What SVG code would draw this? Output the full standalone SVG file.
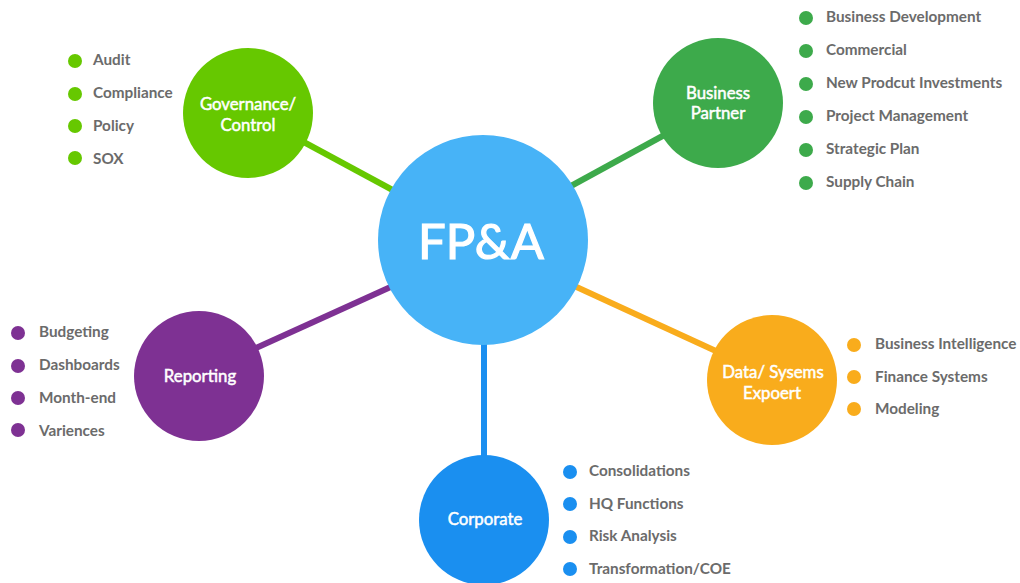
<svg xmlns="http://www.w3.org/2000/svg" width="1020" height="583" viewBox="0 0 1020 583">
<style>
.lbl{font-family:Lato,"Open Sans","Liberation Sans",sans-serif;font-size:15.3px;font-weight:bold;fill:#6b6b6b}
.nl{font-family:Lato,"Open Sans","Liberation Sans",sans-serif;font-size:16.8px;font-weight:normal;fill:#fff;stroke:#fff;stroke-width:0.5;text-anchor:middle}
.edge{stroke-width:6;fill:none}
</style>
<rect width="1020" height="583" fill="#fff"/>
<g id="connectors">
<line class="edge" x1="300" y1="140" x2="400" y2="194" stroke="#66C800"/>
<line class="edge" x1="560" y1="192" x2="668" y2="133" stroke="#3DAA4B"/>
<line class="edge" x1="256" y1="348" x2="395" y2="285" stroke="#7E3193"/>
<line class="edge" x1="570" y1="284" x2="718" y2="352" stroke="#F9AC1C"/>
<line class="edge" x1="484" y1="330" x2="484" y2="462" stroke="#1A8FF0"/>
</g>
<g id="fpa">
<circle cx="483" cy="240" r="105" fill="#47B3F7"/>
<text x="481" y="259" font-family="Lato,'Open Sans','Liberation Sans',sans-serif" font-size="49" fill="#fff" stroke="#fff" stroke-width="1.2" text-anchor="middle">FP&amp;A</text>
</g>
<g id="governance">
<circle cx="248" cy="113" r="65" fill="#66C800"/>
<text class="nl" x="248" y="110">Governance/</text>
<text class="nl" x="248" y="131">Control</text>
<g fill="#66C800"><circle cx="75" cy="61" r="7"/><circle cx="75" cy="94" r="7"/><circle cx="75" cy="126" r="7"/><circle cx="75" cy="158" r="7"/></g>
<text class="lbl" x="93" y="65">Audit</text>
<text class="lbl" x="93" y="98">Compliance</text>
<text class="lbl" x="93" y="131">Policy</text>
<text class="lbl" x="93" y="164">SOX</text>
</g>
<g id="business-partner">
<circle cx="718" cy="103" r="65" fill="#3DAA4B"/>
<text class="nl" x="718" y="99">Business</text>
<text class="nl" x="718" y="119">Partner</text>
<g fill="#3DAA4B"><circle cx="806" cy="18" r="7"/><circle cx="806" cy="51" r="7"/><circle cx="806" cy="84" r="7"/><circle cx="806" cy="117" r="7"/><circle cx="806" cy="150" r="7"/><circle cx="806" cy="183" r="7"/></g>
<text class="lbl" x="826" y="22">Business Development</text>
<text class="lbl" x="826" y="55">Commercial</text>
<text class="lbl" x="826" y="88">New Prodcut Investments</text>
<text class="lbl" x="826" y="121">Project Management</text>
<text class="lbl" x="826" y="154">Strategic Plan</text>
<text class="lbl" x="826" y="187">Supply Chain</text>
</g>
<g id="reporting">
<circle cx="199" cy="376" r="65" fill="#7E3193"/>
<text class="nl" x="200" y="382">Reporting</text>
<g fill="#7E3193"><circle cx="18" cy="333" r="7"/><circle cx="18" cy="366" r="7"/><circle cx="18" cy="398" r="7"/><circle cx="18" cy="430" r="7"/></g>
<text class="lbl" x="39" y="337">Budgeting</text>
<text class="lbl" x="39" y="370">Dashboards</text>
<text class="lbl" x="39" y="403">Month-end</text>
<text class="lbl" x="39" y="436">Variences</text>
</g>
<g id="data-systems">
<circle cx="772" cy="380" r="65" fill="#F9AC1C"/>
<text class="nl" x="773" y="378">Data/ Sysems</text>
<text class="nl" x="772" y="399">Expoert</text>
<g fill="#F9AC1C"><circle cx="854" cy="345" r="7"/><circle cx="854" cy="377" r="7"/><circle cx="854" cy="409" r="7"/></g>
<text class="lbl" x="875" y="349">Business Intelligence</text>
<text class="lbl" x="875" y="382">Finance Systems</text>
<text class="lbl" x="875" y="414">Modeling</text>
</g>
<g id="corporate">
<circle cx="484" cy="520" r="65" fill="#1A8FF0"/>
<text class="nl" x="485" y="525">Corporate</text>
<g fill="#1A8FF0"><circle cx="570" cy="472" r="7"/><circle cx="570" cy="504" r="7"/><circle cx="570" cy="537" r="7"/><circle cx="570" cy="569" r="7"/></g>
<text class="lbl" x="589" y="476">Consolidations</text>
<text class="lbl" x="589" y="509">HQ Functions</text>
<text class="lbl" x="589" y="541">Risk Analysis</text>
<text class="lbl" x="589" y="574">Transformation/COE</text>
</g>
</svg>
